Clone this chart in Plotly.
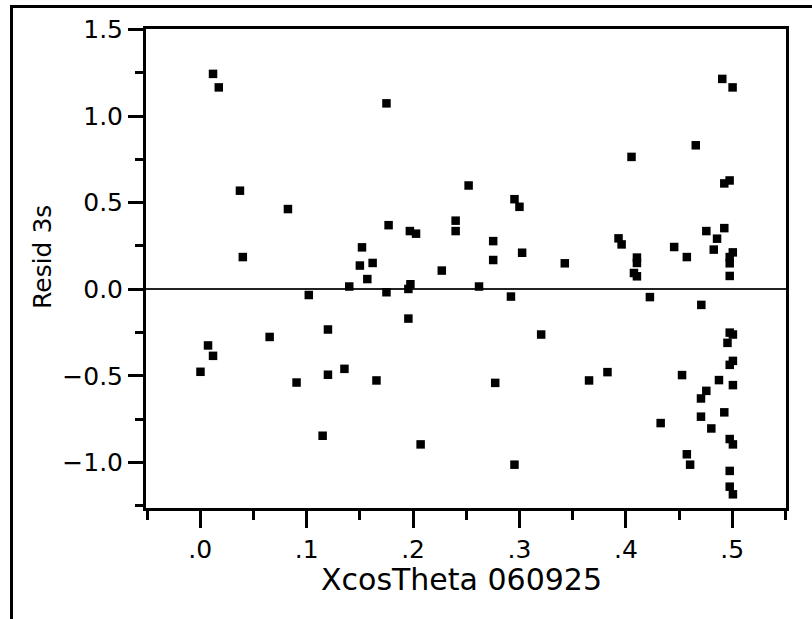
import plotly.graph_objects as go

# Data
x_vals = [0.0120, 0.0174, 0.175, 0.0373, 0.0824, 0.177, 0.152, 0.040, 0.162, 0.150,
          0.157, 0.140, 0.102, 0.175, 0.120, 0.0652, 0.0073, 0.012, 0.0002, 0.1355,
          0.120, 0.0905, 0.1656, 0.115, 0.2522, 0.2953, 0.300, 0.240, 0.240, 0.197,
          0.2028, 0.2753, 0.3025, 0.2753, 0.3426, 0.227, 0.1975, 0.1956, 0.262, 0.292,
          0.1956, 0.3204, 0.2772, 0.2071, 0.2953, 0.4053, 0.3931, 0.396, 0.4454, 0.4104,
          0.4104, 0.4076, 0.4104, 0.4226, 0.3827, 0.3654, 0.4327, 0.4906, 0.5003, 0.4657,
          0.4975, 0.4925, 0.4925, 0.4756, 0.4857, 0.4826, 0.5005, 0.4573, 0.4976, 0.4976,
          0.4976, 0.4709, 0.4976, 0.5006, 0.4955, 0.5006, 0.4976, 0.4528, 0.4875, 0.5006,
          0.4756, 0.4706, 0.4925, 0.4706, 0.4803, 0.4976, 0.5006, 0.4573, 0.4604, 0.4976,
          0.4976, 0.5006]
resid_vals = [1.243, 1.165, 1.073, 0.569, 0.463, 0.370, 0.242, 0.186, 0.152, 0.137,
              0.059, 0.016, -0.033, -0.017, -0.232, -0.275, -0.324, -0.384, -0.476, -0.459,
              -0.493, -0.538, -0.526, -0.845, 0.599, 0.520, 0.476, 0.396, 0.336, 0.336,
              0.321, 0.278, 0.211, 0.169, 0.150, 0.108, 0.029, 0.002, 0.016, -0.042,
              -0.169, -0.261, -0.540, -0.895, -1.012, 0.764, 0.294, 0.259, 0.244, 0.183,
              0.152, 0.094, 0.075, -0.045, -0.478, -0.526, -0.772, 1.214, 1.165, 0.831,
              0.628, 0.611, 0.353, 0.336, 0.292, 0.229, 0.213, 0.186, 0.186, 0.150,
              0.077, -0.090, -0.250, -0.261, -0.309, -0.413, -0.436, -0.495, -0.524, -0.553,
              -0.586, -0.630, -0.710, -0.735, -0.803, -0.864, -0.895, -0.952, -1.012, -1.048,
              -1.139, -1.183]

x_tickvals = [0.0, 0.1, 0.2, 0.3, 0.4, 0.5]
x_ticktext = [".0", ".1", ".2", ".3", ".4", ".5"]
y_tickvals = [-1.0, -0.5, 0.0, 0.5, 1.0, 1.5]
y_ticktext = ["\u22121.0", "\u22120.5", "0.0", "0.5", "1.0", "1.5"]

x_title = "XcosTheta 060925"
y_title = "Resid 3s"

FONT = "DejaVu Sans"

fig = go.Figure()
fig.add_trace(go.Scatter(
    x=x_vals, y=resid_vals, mode="markers",
    marker=dict(symbol="square", size=8.5, color="black", line=dict(width=0)),
    showlegend=False, hoverinfo="x+y",
))

axis_common = dict(
    showgrid=False, showline=True, linecolor="black", linewidth=3, mirror=True,
    ticks="outside", tickcolor="black", tickwidth=3,
    tickfont=dict(family=FONT, size=25, color="black"),
)

fig.update_xaxes(
    range=[-0.051, 0.5505], tickvals=x_tickvals, ticktext=x_ticktext,
    ticklen=17, zeroline=False,
    minor=dict(dtick=0.05, tick0=0, ticks="outside", ticklen=9, tickwidth=3, tickcolor="black"),
    **axis_common,
)
fig.update_yaxes(
    range=[-1.262, 1.502], tickvals=y_tickvals, ticktext=y_ticktext,
    ticklen=15, zeroline=True, zerolinecolor="#222", zerolinewidth=1.5,
    minor=dict(dtick=0.25, tick0=0, ticks="outside", ticklen=8, tickwidth=3, tickcolor="black"),
    **axis_common,
)

W, H = 812, 619
L, R, T, B = 146, 26, 29, 111
pw, ph = W - L - R, H - T - B

def px_x(p):
    return (p - L) / pw

def px_y(p):
    return (H - B - p) / ph

fig.add_annotation(text=x_title, xref="paper", yref="paper",
                   x=px_x(461), y=px_y(579), showarrow=False,
                   font=dict(family=FONT, size=30, color="black"),
                   xanchor="center", yanchor="middle")
fig.add_annotation(text=y_title, xref="paper", yref="paper",
                   x=px_x(42), y=px_y(257), showarrow=False, textangle=-90,
                   font=dict(family=FONT, size=25, color="black"),
                   xanchor="center", yanchor="middle")

# outer frame (left and top edges)
fig.add_shape(type="line", xref="paper", yref="paper",
              x0=px_x(11.5), x1=px_x(11.5), y0=px_y(630), y1=px_y(6.5),
              line=dict(color="black", width=3))
fig.add_shape(type="line", xref="paper", yref="paper",
              x0=px_x(10), x1=px_x(830), y0=px_y(6.5), y1=px_y(6.5),
              line=dict(color="black", width=3))

fig.update_layout(
    width=W, height=H,
    margin=dict(l=L, r=R, t=T, b=B),
    paper_bgcolor="white", plot_bgcolor="white",
    font=dict(family=FONT, color="black"),
)

fig.write_html("out.html")
